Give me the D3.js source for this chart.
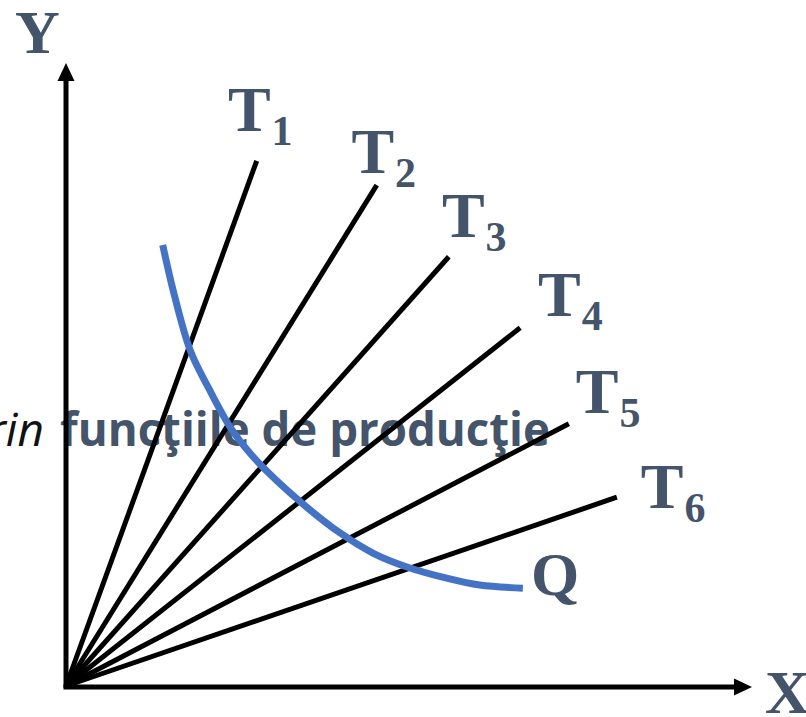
<!DOCTYPE html>
<html>
<head>
<meta charset="utf-8">
<script src="https://cdn.jsdelivr.net/npm/d3@7"></script>
<style>
  html, body { margin: 0; padding: 0; background: #fff; overflow: hidden; }
</style>
</head>
<body>
<div id="chart"></div>
<script>
// rays from the origin: end points in chart units
const rayNames = ["1", "2", "3", "4", "5", "6"];
const rayEndX = [27.8, 45.3, 55.8, 66.2, 73.3, 80.3];
const rayEndY = [84.3, 80.4, 68.9, 57.5, 42.1, 30.3];
const labelX = [23.6, 41.6, 54.8, 68.8, 74.3, 83.8];
const labelY = [89.1, 82.3, 72.1, 59.4, 43.8, 28.6];

// isoquant Q
const qX = [14.1, 15.6, 18.1, 20.7, 23.9, 26.8, 30.2, 35.1, 39.9, 44.8, 49.7, 55.5, 60.3, 66.6];
const qY = [70.8, 63.6, 53.9, 48.0, 41.6, 37.4, 33.5, 28.7, 24.6, 21.3, 19.1, 17.3, 16.2, 15.7];
const qLabel = [67.8, 14.6];

const W = 806, H = 717;
const slate = "#44546A";

const svg = d3.select("#chart").append("svg")
    .attr("width", W)
    .attr("height", H);

const x = d3.scaleLinear().domain([0, 100]).range([66, 752]);
const y = d3.scaleLinear().domain([0, 100]).range([686, 63]);

// background caption (partly hidden behind the lines)
svg.append("text")
    .attr("x", 44).attr("y", 446)
    .attr("text-anchor", "end")
    .style("font-family", "'Open Sans', sans-serif")
    .style("font-style", "italic")
    .style("font-size", "46px")
    .attr("fill", "#111")
    .text("rin");
svg.append("text")
    .attr("x", 60).attr("y", 446)
    .style("font-family", "'Open Sans', sans-serif")
    .style("font-weight", "bold")
    .style("font-size", "46px")
    .attr("fill", slate)
    .attr("textLength", 490)
    .attr("lengthAdjust", "spacingAndGlyphs")
    .text("funcţiile de producţie");

// axes with arrow heads
svg.append("line")
    .attr("x1", x(0)).attr("y1", y(0) + 2)
    .attr("x2", x(0)).attr("y2", y(100) + 16)
    .attr("stroke", "#000").attr("stroke-width", 5);
svg.append("path")
    .attr("d", d3.line()([[x(0) - 8.5, y(100) + 18], [x(0) + 8.5, y(100) + 18], [x(0), y(100)]]) + "Z")
    .attr("fill", "#000");
svg.append("line")
    .attr("x1", x(0) - 2.5).attr("y1", y(0) + 1)
    .attr("x2", x(100) - 16).attr("y2", y(0) + 1)
    .attr("stroke", "#000").attr("stroke-width", 5);
svg.append("path")
    .attr("d", d3.line()([[x(100) - 18, y(0) + 1 - 8.5], [x(100) - 18, y(0) + 1 + 8.5], [x(100), y(0) + 1]]) + "Z")
    .attr("fill", "#000");

// rays
svg.selectAll(".ray")
    .data(rayNames)
    .join("line")
    .attr("class", "ray")
    .attr("x1", x(0)).attr("y1", y(0))
    .attr("x2", (d, i) => x(rayEndX[i]))
    .attr("y2", (d, i) => y(rayEndY[i]))
    .attr("stroke", "#000")
    .attr("stroke-width", 5);

// isoquant curve
svg.append("path")
    .datum(d3.zip(qX, qY))
    .attr("d", d3.line().curve(d3.curveCatmullRom)
        .x(d => x(d[0]))
        .y(d => y(d[1])))
    .attr("fill", "none")
    .attr("stroke", "#4472C4")
    .attr("stroke-width", 7);

// labels
const serif = "'Liberation Serif', 'Times New Roman', serif";
const lab = svg.selectAll(".tlab")
    .data(rayNames)
    .join("text")
    .attr("class", "tlab")
    .attr("x", (d, i) => x(labelX[i]))
    .attr("y", (d, i) => y(labelY[i]))
    .style("font-family", serif)
    .style("font-weight", "bold")
    .style("font-size", "64px")
    .attr("fill", slate);
lab.append("tspan").text("T");
lab.append("tspan")
    .attr("dx", 1)
    .attr("dy", 14)
    .style("font-size", "42px")
    .text(d => d);

svg.append("text")
    .attr("x", x(qLabel[0])).attr("y", y(qLabel[1]))
    .style("font-family", serif).style("font-weight", "bold").style("font-size", "62px")
    .attr("fill", slate)
    .text("Q");

svg.append("text")
    .attr("x", 15).attr("y", 53)
    .style("font-family", serif).style("font-weight", "bold").style("font-size", "62px")
    .attr("fill", slate)
    .text("Y");
svg.append("text")
    .attr("x", 765).attr("y", 713)
    .style("font-family", serif).style("font-weight", "bold").style("font-size", "62px")
    .attr("fill", slate)
    .text("X");
</script>
</body>
</html>
